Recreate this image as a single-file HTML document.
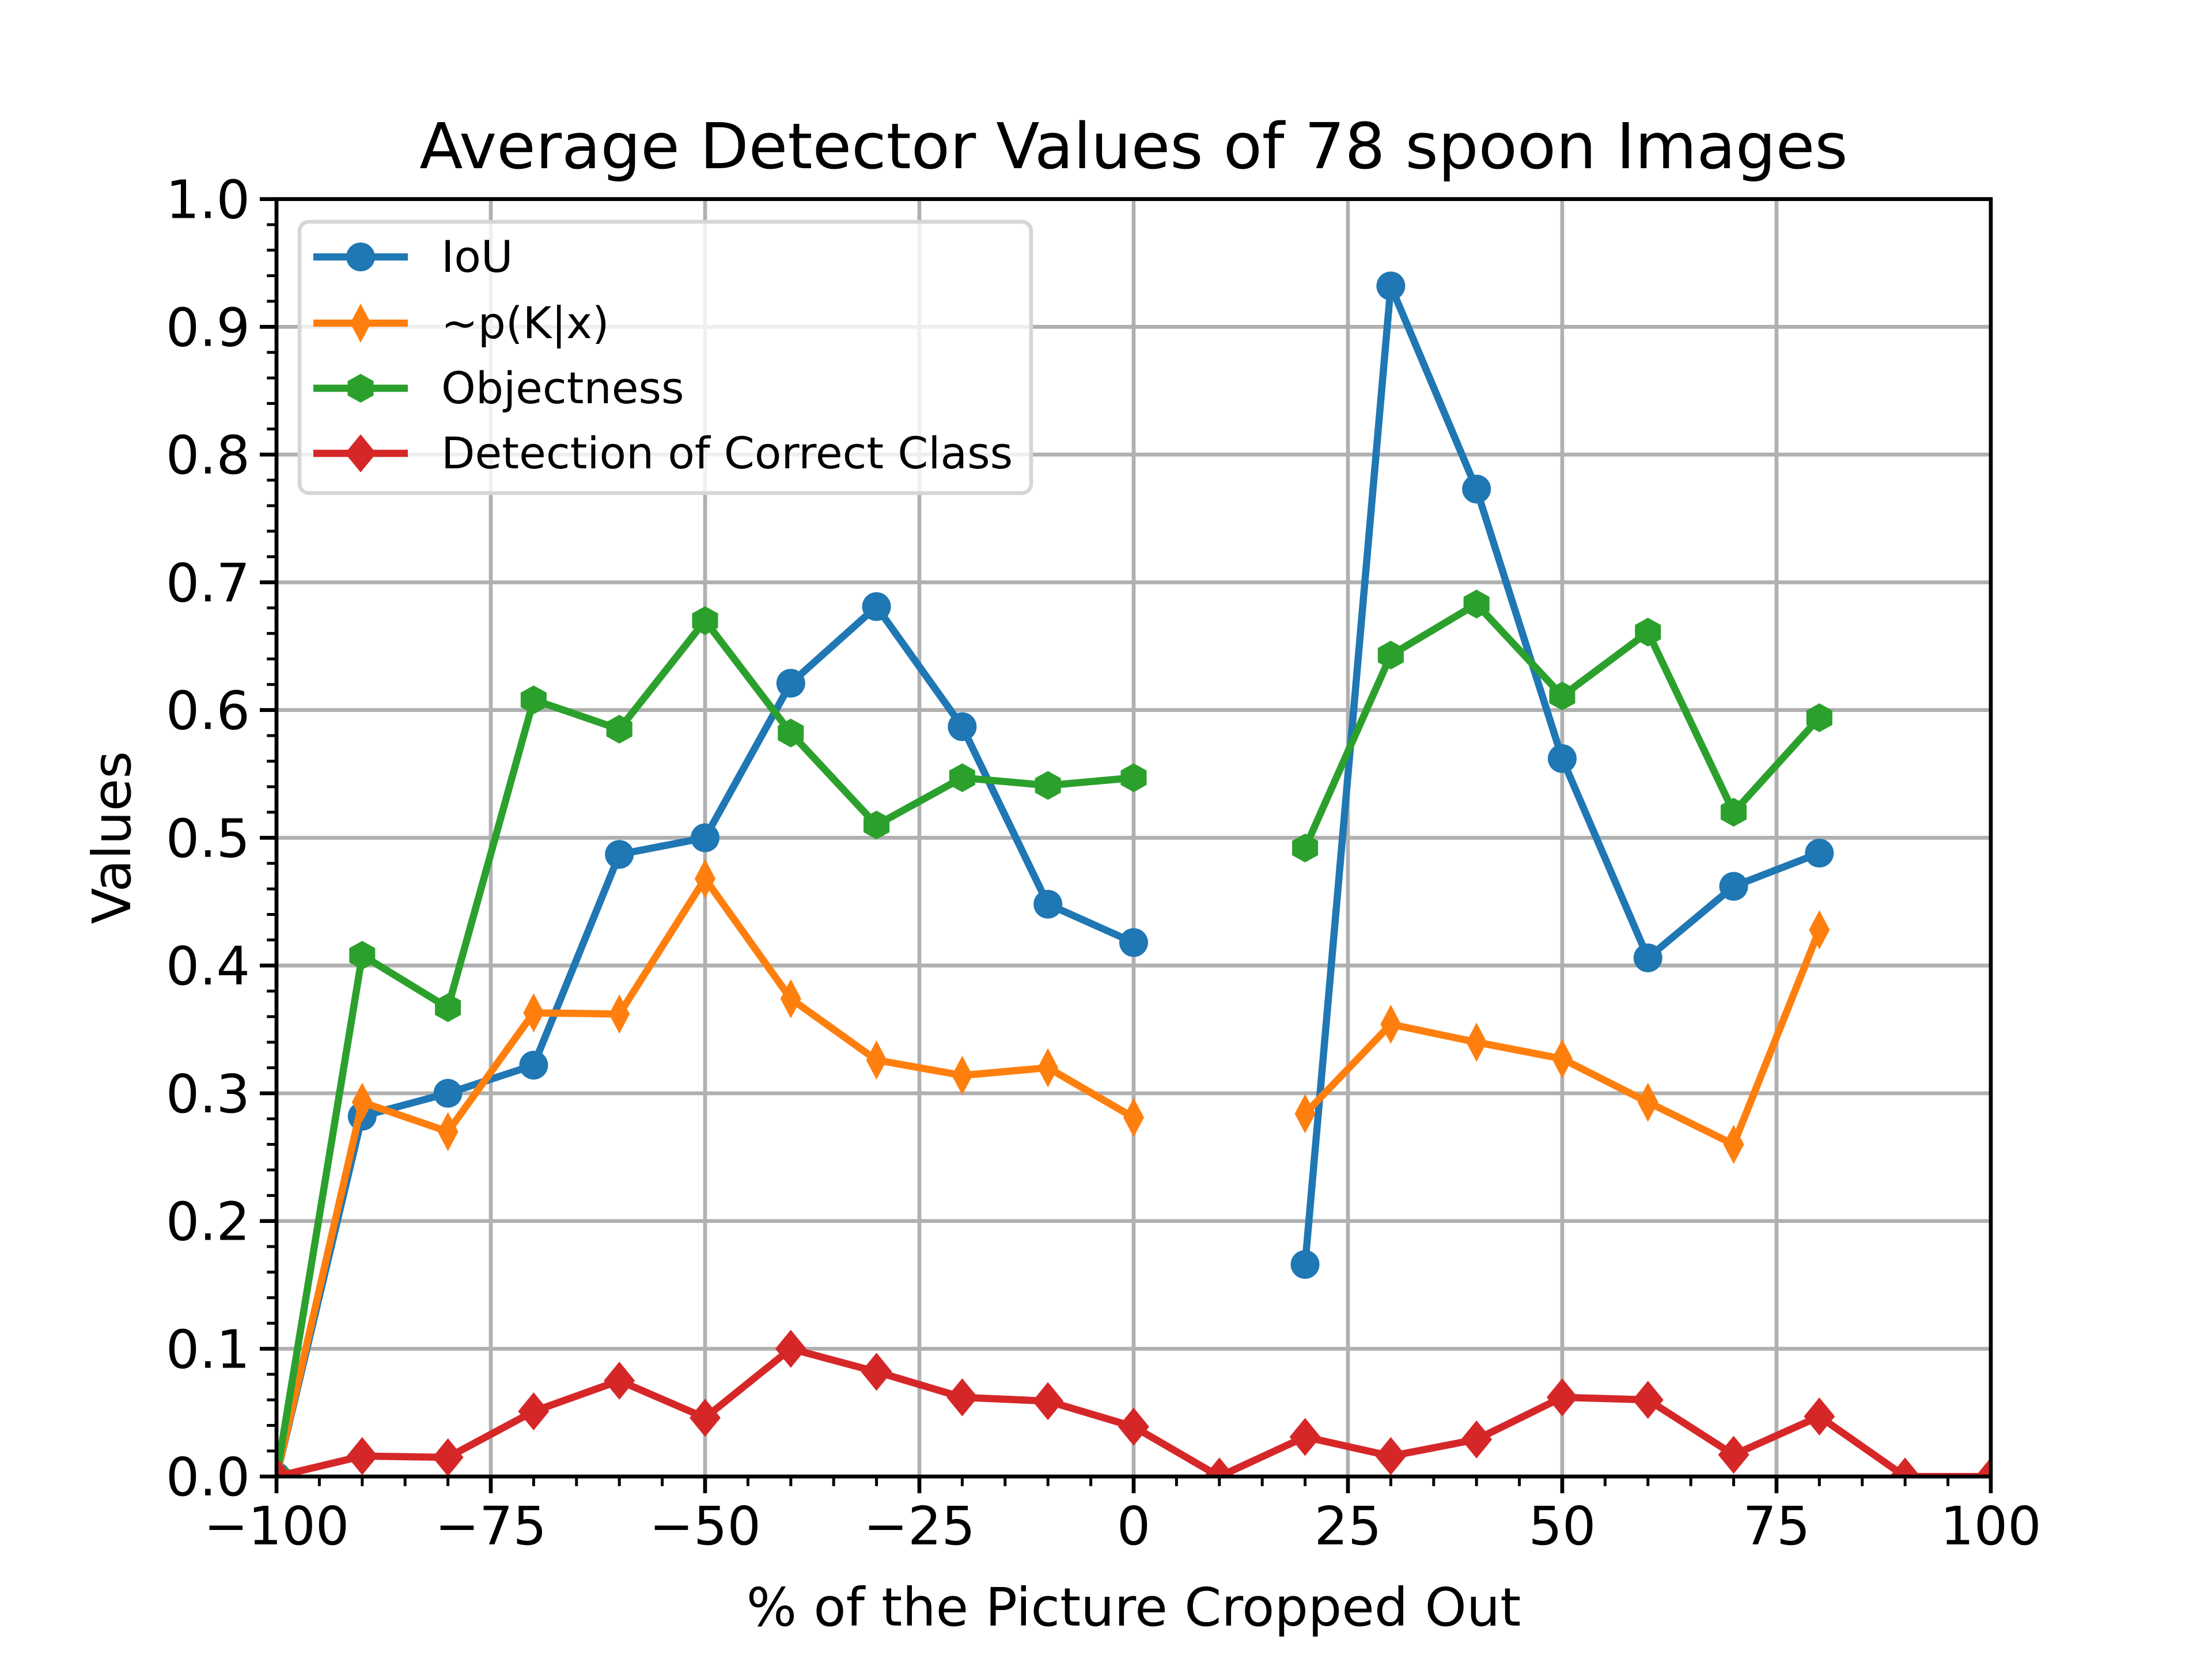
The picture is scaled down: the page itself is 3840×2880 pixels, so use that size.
<!DOCTYPE html>
<html><head><meta charset="utf-8"><style>
html,body{margin:0;padding:0;background:#fff;}
svg{display:block;font-family:"DejaVu Sans","Liberation Sans",sans-serif;}
</style></head><body>
<svg id="chart" width="3840" height="2880" viewBox="0 0 3840 2880" xmlns="http://www.w3.org/2000/svg">
<rect width="3840" height="2880" fill="#fff"/>
<defs><clipPath id="plotclip"><rect x="480" y="345.6" width="2976" height="2217.6"/></clipPath></defs>
<g id="grid"></g>
<g id="series" clip-path="url(#plotclip)"></g>
<g id="axes"></g>
<text x="1968" y="292" font-size="110" text-anchor="middle">Average Detector Values of 78 spoon Images</text>
<text x="1968" y="2822" font-size="92" text-anchor="middle">% of the Picture Cropped Out</text>
<text x="0" y="0" font-size="92" text-anchor="middle" transform="translate(226,1454) rotate(-90)">Values</text>
<g id="legend"></g>
</svg>
<script>
const xCats = [-100,-90,-80,-70,-60,-50,-40,-30,-20,-10,0,10,20,30,40,50,60,70,80,90,100];
const iouVals = [0,0.282,0.300,0.322,0.487,0.500,0.621,0.681,0.587,0.448,0.418,null,0.166,0.932,0.773,0.562,0.406,0.462,0.488,null,null];
const pkxVals = [0,0.293,0.270,0.363,0.362,0.468,0.374,0.326,0.314,0.320,0.281,null,0.284,0.354,0.340,0.327,0.293,0.260,0.428,null,null];
const objVals = [0,0.408,0.367,0.608,0.585,0.670,0.582,0.510,0.547,0.541,0.547,null,0.492,0.643,0.683,0.611,0.661,0.520,0.594,null,null];
const detVals = [0,0.016,0.015,0.051,0.075,0.046,0.100,0.082,0.062,0.059,0.039,0.0,0.031,0.016,0.029,0.062,0.060,0.017,0.047,0.0,0.0];
const xTicks = [-100,-75,-50,-25,0,25,50,75,100];
const xTickLabels = ["\u2212100","\u221275","\u221250","\u221225","0","25","50","75","100"];
const yTicks = [0,0.1,0.2,0.3,0.4,0.5,0.6,0.7,0.8,0.9,1.0];
const yTickLabels = ["0.0","0.1","0.2","0.3","0.4","0.5","0.6","0.7","0.8","0.9","1.0"];
const seriesNames = ["IoU","~p(K|x)","Objectness","Detection of Correct Class"];

const L=480,R=3456,T=345.6,B=2563.2;
const xs=v=>L+(v+100)/200*(R-L);
const ys=v=>B-v*(B-T);
const NS="http://www.w3.org/2000/svg";
function mk(tag,attrs,parent){const e=document.createElementNS(NS,tag);for(const k in attrs)e.setAttribute(k,attrs[k]);parent.appendChild(e);return e;}
const grid=document.getElementById('grid'),axes=document.getElementById('axes'),ser=document.getElementById('series'),leg=document.getElementById('legend');

xTicks.forEach((t,i)=>{
 const g=mk('line',{x1:xs(t),x2:xs(t),y1:T,y2:B,stroke:'#b0b0b0','stroke-width':6.7},grid);
 
 
 mk('line',{x1:xs(t),x2:xs(t),y1:B,y2:B+29,stroke:'#000','stroke-width':6.7},axes);
 const tx=mk('text',{x:xs(t),y:B+118,'font-size':92,'text-anchor':'middle'},axes);
 tx.textContent=xTickLabels[i];
 
 
});
for(let v=-95;v<100;v+=5){ if(v%25===0)continue; mk('line',{x1:xs(v),x2:xs(v),y1:B,y2:B+16.7,stroke:'#000','stroke-width':5},axes);}
yTicks.forEach((t,i)=>{
 const g=mk('line',{x1:L,x2:R,y1:ys(t),y2:ys(t),stroke:'#b0b0b0','stroke-width':6.7},grid);
 
 
 mk('line',{x1:L-29,x2:L,y1:ys(t),y2:ys(t),stroke:'#000','stroke-width':6.7},axes);
 const tx=mk('text',{x:L-46,y:ys(t)+33,'font-size':92,'text-anchor':'end'},axes);
 tx.textContent=yTickLabels[i];
 
 
});
for(let k=1;k<50;k++){ if(k%5===0)continue; const v=k*0.02; mk('line',{x1:L-16.7,x2:L,y1:ys(v),y2:ys(v),stroke:'#000','stroke-width':5},axes);}
mk('rect',{x:L,y:T,width:R-L,height:B-T,fill:'none',stroke:'#000','stroke-width':6.7},axes);

function marker(type,cx,cy,color,parent){
 if(type==='o') return mk('circle',{cx,cy,r:25,fill:color},parent);
 let pts;
 if(type==='d'){const w=18,h=34;pts=[[0,-h],[w,0],[0,h],[-w,0]];}
 else if(type==='D'){const h=33,w=27;pts=[[0,-h],[w,0],[0,h],[-w,0]];}
 else {const r=25;pts=[];for(let k=0;k<6;k++){const a=Math.PI/2+k*Math.PI/3;pts.push([r*Math.cos(a)*1.04,-r*Math.sin(a)]);}}
 return mk('polygon',{points:pts.map(p=>(cx+p[0])+','+(cy+p[1])).join(' '),fill:color},parent);
}
const allSeries=[[iouVals,'#1f77b4','o','iou'],[pkxVals,'#ff7f0e','d','pkx'],[objVals,'#2ca02c','h','objectness'],[detVals,'#d62728','D','detection']];
allSeries.forEach(([vals,color,m,nm])=>{
 let segs=[],cur=[];
 vals.forEach((v,i)=>{ if(v===null){ if(cur.length)segs.push(cur); cur=[]; } else cur.push([xs(xCats[i]),ys(v)]); });
 if(cur.length)segs.push(cur);
 segs.forEach(s=>{
  const p=mk('polyline',{points:s.map(q=>q.join(',')).join(' '),fill:'none',stroke:color,'stroke-width':12.5,'stroke-linejoin':'round','stroke-linecap':'square'},ser);
  
  
 });
 vals.forEach((v,i)=>{ if(v===null)return;
  const e=marker(m,xs(xCats[i]),ys(v),color,ser);
  
  
 });
});

const box=mk('rect',{x:520,y:385,width:1270,height:471,rx:16,fill:'#fff','fill-opacity':0.8,stroke:'#d6d6d6','stroke-width':6.7},leg);


const rowY=[446,561,674,787];
allSeries.forEach(([vals,color,m,nm],i)=>{
 const g=mk('g',{},leg);
 
 
 mk('line',{x1:544,x2:708,y1:rowY[i],y2:rowY[i],stroke:color,'stroke-width':12.5},g);
 marker(m,626,rowY[i],color,g);
 const t=mk('text',{x:766,y:rowY[i]+26,'font-size':76},g);
 t.textContent=seriesNames[i];
});
</script>
</body></html>
